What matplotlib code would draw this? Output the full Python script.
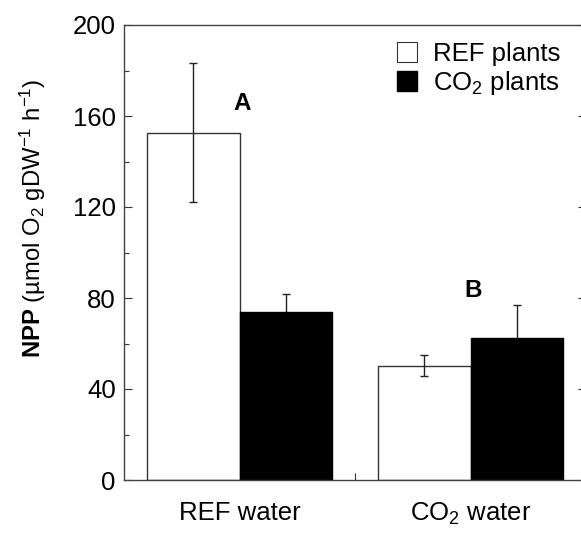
import matplotlib
matplotlib.use("Agg")
import matplotlib.pyplot as plt
from matplotlib.patches import Patch
import numpy as np

plt.rcParams['font.family'] = ['Liberation Sans', 'DejaVu Sans']
plt.rcParams['mathtext.fontset'] = 'custom'
plt.rcParams['mathtext.rm'] = 'Liberation Sans'
plt.rcParams['mathtext.it'] = 'Liberation Sans:italic'
plt.rcParams['mathtext.bf'] = 'Liberation Sans:bold'

categories = ["REF water", "CO$_2$ water"]
series_names = ["REF plants", "CO$_2$ plants"]
ref_plants = [152.7, 50.2]
ref_plants_err = [30.7, 4.6]
co2_plants = [73.7, 62.3]
co2_plants_err = [8.2, 14.6]
letters = ["A", "B"]
letter_y = [165.7, 83.5]
yticks = [0, 40, 80, 120, 160, 200]

FS = 18.5

fig = plt.figure(figsize=(5.81, 5.33), dpi=100)
ax = fig.add_axes([124/581, 53/533, 462/581, 455/533])

x = np.arange(len(categories))
w = 0.4
ax.bar(x - w/2, ref_plants, w, color='white', edgecolor='#333333', linewidth=1.0, zorder=2)
ax.bar(x + w/2, co2_plants, w, color='black', edgecolor='black', linewidth=1.0, zorder=2)
ax.errorbar(x - w/2, ref_plants, yerr=ref_plants_err, fmt='none', ecolor='#222222',
            elinewidth=1.0, capsize=3, capthick=1.0, zorder=3)
ax.errorbar(x + w/2, co2_plants, yerr=co2_plants_err, fmt='none', ecolor='#222222',
            elinewidth=1.0, capsize=3, capthick=1.0, zorder=1)

for xi, lab, ly in zip(x, letters, letter_y):
    ax.text(xi + 0.01, ly, lab, ha='center', va='center', fontsize=17.5, fontweight='bold')

ax.set_xlim(-0.5, 1.5)
ax.set_ylim(0, 200)
ax.set_yticks(yticks)
ax.set_yticks(np.arange(20, 200, 40), minor=True)
ax.set_xticks(x)
ax.set_xticklabels(categories, fontsize=FS)
ax.set_xticks([0.5], minor=True)
ax.tick_params(axis='y', which='major', direction='in', length=5.5, width=0.8,
               labelsize=FS, right=True, pad=6, color='#333333')
ax.tick_params(axis='y', which='minor', direction='in', length=3.7, width=0.8,
               right=True, color='#333333')
ax.tick_params(axis='x', which='major', length=0, pad=15)
ax.tick_params(axis='x', which='minor', direction='in', length=5, width=0.8, color='#333333')
for s in ax.spines.values():
    s.set_color('#444444')
    s.set_linewidth(1.0)

ax.set_ylabel(r"$\bf{NPP}$ (µmol O$_2$ gDW$^{-1}$ h$^{-1}$)", fontsize=17.2)
ax.yaxis.set_label_coords(-0.165, 0.576)

handles = [Patch(facecolor='white', edgecolor='#333333', linewidth=0.8),
           Patch(facecolor='black', edgecolor='black')]
ax.legend(handles, series_names, loc='upper right', bbox_to_anchor=(0.977, 0.996),
          frameon=False, fontsize=FS, handlelength=0.8, handleheight=0.8,
          handletextpad=0.6, labelspacing=0.1, borderaxespad=0.2)

fig.savefig("out.png", dpi=100)
